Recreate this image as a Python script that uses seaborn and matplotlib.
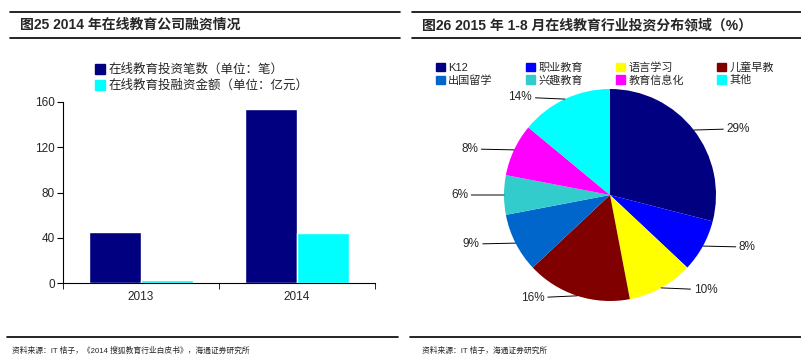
import numpy as np
import pandas as pd
import seaborn as sns
import matplotlib.pyplot as plt
from matplotlib.patches import Patch
from matplotlib.lines import Line2D

# ---- data ----
years = ["2013", "2014"]
deal_counts = [45, 154]
deal_amounts = [3, 44]
bar_series = ["在线教育投资笔数（单位：笔）", "在线教育投融资金额（单位：亿元）"]
bar_colors = ["#000080", "#00FFFF"]

pie_labels = ["K12", "职业教育", "语言学习", "儿童早教", "出国留学", "兴趣教育", "教育信息化", "其他"]
pie_shares = [29, 8, 10, 16, 9, 6, 8, 14]
pie_colors = ["#000080", "#0000FF", "#FFFF00", "#800000", "#0066CC", "#33CCCC", "#FF00FF", "#00FFFF"]

sns.set_style("white")
plt.rcParams["font.family"] = ["Liberation Sans", "Noto Sans CJK SC"]

W, H = 801, 361
fig = plt.figure(figsize=(W / 100, H / 100), dpi=100)


def fx(px):
    return px / W


def fy(py):
    return 1 - py / H


# header / footer rules
for x0, x1 in [(10, 400), (412, 801)]:
    for y in (12, 38):
        fig.add_artist(Line2D([fx(x0), fx(x1)], [fy(y), fy(y)], color="black", lw=1.2))
for x0, x1 in [(7, 398), (410, 801)]:
    fig.add_artist(Line2D([fx(x0), fx(x1)], [fy(337), fy(337)], color="black", lw=1.2))

fig.text(fx(20), fy(25), "图25 2014 年在线教育公司融资情况", fontsize=10, fontweight="bold", va="center")
fig.text(fx(422), fy(25), "图26 2015 年 1-8 月在线教育行业投资分布领域（%）", fontsize=10, fontweight="bold", va="center")
fig.text(fx(12), fy(351), "资料来源：IT 桔子，《2014 搜狐教育行业白皮书》，海通证券研究所", fontsize=5.6, va="center")
fig.text(fx(422), fy(351), "资料来源：IT 桔子，海通证券研究所", fontsize=5.6, va="center")

# ---- left: bar chart ----
ax1 = fig.add_axes([fx(63), fy(283), fx(375) - fx(63), fy(102) - fy(283)])
df = pd.DataFrame({
    "year": years * 2,
    "value": deal_counts + deal_amounts,
    "series": [bar_series[0]] * len(years) + [bar_series[1]] * len(years),
})
sns.barplot(data=df, x="year", y="value", hue="series", palette=bar_colors,
            width=0.67, saturation=1, ax=ax1, legend=False)
ax1.set_ylim(0, 160)
ax1.set_yticks([0, 40, 80, 120, 160])
ax1.set_xlim(-0.5, 1.5)
ax1.set_xlabel("")
ax1.set_ylabel("")
sns.despine(ax=ax1)
for sp in ("left", "bottom"):
    ax1.spines[sp].set_color("black")
    ax1.spines[sp].set_linewidth(0.8)
ax1.tick_params(axis="y", direction="out", length=4, left=True, labelsize=8.5, color="black", pad=2)
ax1.tick_params(axis="x", length=0, labelsize=8.5, pad=6)
ax1.set_xticks([-0.5, 0.5, 1.5], minor=True)
ax1.tick_params(axis="x", which="minor", length=4, bottom=True, direction="out", color="black")

fig.legend(handles=[Patch(color=c) for c in bar_colors], labels=bar_series,
           loc="upper left", bbox_to_anchor=(fx(95), fy(64)), frameon=False, fontsize=9,
           handlelength=0.8, handleheight=0.8, handletextpad=0.3, labelspacing=0.3,
           borderpad=0, borderaxespad=0)

# ---- right: pie chart ----
R = 106
ax2 = fig.add_axes([fx(450), fy(355), 320 / W, 320 / H])
wedges, _ = ax2.pie(pie_shares, colors=pie_colors, startangle=90, counterclock=False,
                    radius=1, wedgeprops=dict(linewidth=0))
lim = 160 / R
ax2.set_xlim(-lim, lim)
ax2.set_ylim(-lim, lim)
for w, share in zip(wedges, pie_shares):
    ang = np.deg2rad((w.theta1 + w.theta2) / 2)
    c, s = np.cos(ang), np.sin(ang)
    xt, yt = c + 0.42 * np.sign(c), 1.02 * s
    ax2.annotate(f"{share}%", xy=(c, s), xytext=(xt, yt),
                 ha="center", va="center", fontsize=8.5,
                 arrowprops=dict(arrowstyle="-", color="black", lw=0.7, shrinkA=0, shrinkB=0),
                 annotation_clip=False)

order = [0, 4, 1, 5, 2, 6, 3, 7]
fig.legend(handles=[Patch(color=pie_colors[i]) for i in order],
           labels=[pie_labels[i] for i in order], ncols=4,
           loc="upper left", bbox_to_anchor=(fx(436), fy(62)), frameon=False, fontsize=8,
           handlelength=0.8, handleheight=0.8, handletextpad=0.3, labelspacing=0.2,
           columnspacing=3.0, borderpad=0, borderaxespad=0)

fig.savefig("out.png", dpi=100)
